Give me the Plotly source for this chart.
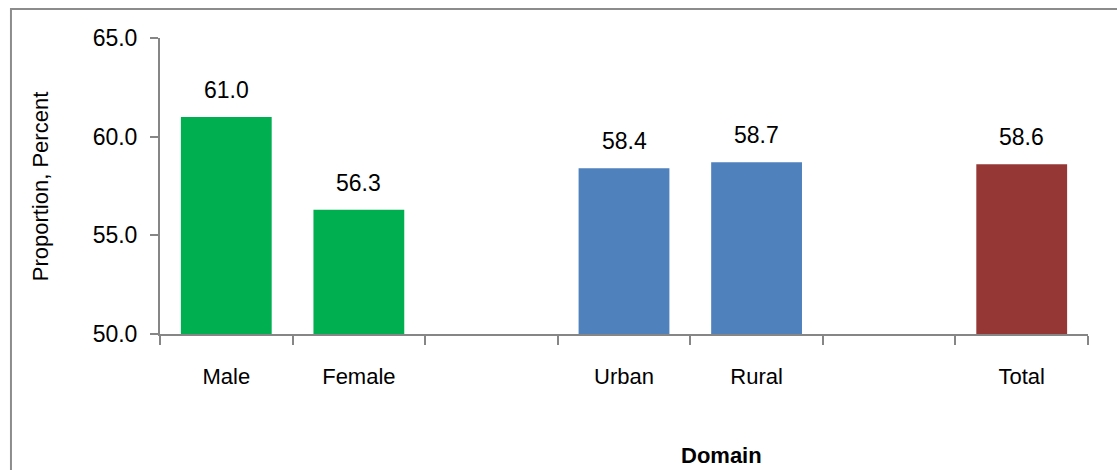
import plotly.graph_objects as go

# Categories (blank slots separate the groups)
categories = ["Male", "Female", " ", "Urban", "Rural", "  ", "Total"]
values = [61.0, 56.3, None, 58.4, 58.7, None, 58.6]
colors = ["#00B050", "#00B050", "#FFFFFF", "#4F81BD", "#4F81BD", "#FFFFFF", "#953735"]

y_ticks = [50.0, 55.0, 60.0, 65.0]

FONT = "Liberation Sans, Arial, sans-serif"
AXIS_COLOR = "#868686"

fig = go.Figure()
fig.add_trace(go.Bar(
    x=categories,
    y=[v if v is not None else 0 for v in values],
    marker=dict(color=colors, line=dict(width=0)),
    hoverinfo="skip",
))

# value labels above each bar
annotations = []
for c, v in zip(categories, values):
    if v is None:
        continue
    annotations.append(dict(
        x=c, y=v, xref="x", yref="y", text=f"{v:.1f}", showarrow=False,
        yshift=27, font=dict(family=FONT, size=23, color="#000000"),
    ))

# axis titles
annotations.append(dict(
    x=-0.129, y=0.5, xref="paper", yref="paper", text="Proportion, Percent",
    xanchor="center", yanchor="middle",
    textangle=-90, showarrow=False, font=dict(family=FONT, size=22, color="#000000"),
))
annotations.append(dict(
    x=0.6056, y=-0.409, xref="paper", yref="paper", text="<b>Domain</b>",
    xanchor="center", yanchor="middle",
    showarrow=False, font=dict(family=FONT, size=22, color="#000000"),
))

fig.update_layout(
    width=1117, height=470,
    margin=dict(l=160, r=29, t=38, b=136),
    paper_bgcolor="#FFFFFF", plot_bgcolor="#FFFFFF",
    showlegend=False,
    bargap=0.315,
    annotations=annotations,
    shapes=[dict(
        type="rect", xref="paper", yref="paper",
        x0=-0.1606, x1=1.3, y0=-0.6, y1=1.098,
        line=dict(color="#8C8C8C", width=2), fillcolor="rgba(0,0,0,0)", layer="below",
    )],
    font=dict(family=FONT, size=23, color="#000000"),
)

fig.update_xaxes(
    type="category", categoryorder="array", categoryarray=categories,
    range=[-0.5, len(categories) - 0.5],
    showline=True, linecolor=AXIS_COLOR, linewidth=2,
    ticks="outside", tickson="boundaries", ticklen=9, tickwidth=2, tickcolor=AXIS_COLOR,
    ticklabelstandoff=22,
    tickfont=dict(family=FONT, size=22, color="#000000"),
    showgrid=False, zeroline=False,
)
fig.update_yaxes(
    range=[50, 65], tickvals=y_ticks, tickformat=".1f",
    showline=True, linecolor=AXIS_COLOR, linewidth=2,
    ticks="outside", ticklen=8, tickwidth=2, tickcolor=AXIS_COLOR,
    ticklabelstandoff=8,
    tickfont=dict(family=FONT, size=23, color="#000000"),
    showgrid=False, zeroline=False,
)

fig.write_html("out.html")
